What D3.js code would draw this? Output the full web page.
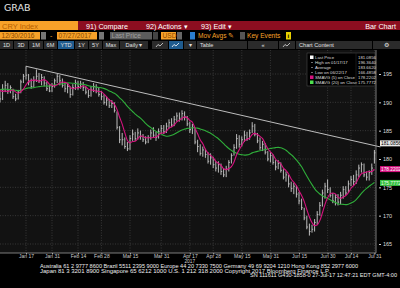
<!DOCTYPE html>
<html lang="en">
<head>
<meta charset="UTF-8">
<title>CRY Index Bar Chart</title>
<script src="https://d3js.org/d3.v7.min.js"></script>
<style>
  body { margin: 0; background: #000; }
  svg { display: block; font-family: "Liberation Sans", Arial, sans-serif; }
</style>
</head>
<body>
<div id="chart"></div>
<script>
// closes from before 12/30/2016, only used to seed the moving averages
const seedCloses = [191.0, 191.6, 192.4, 193.2, 192.8, 191.8, 192.4, 193.0, 192.6, 191.8,
  191.2, 191.6, 192.6, 193.4, 192.0, 192.4, 193.2, 192.6, 192.6];

// daily bars, 12/30/2016 .. 07/27/2017 (trading days)
const closes = [191.6, 190.6, 192.3, 193.0, 192.0, 192.6, 191.0, 190.6, 191.8, 193.6,
  194.6, 194.8, 193.6, 192.8, 193.8, 194.6, 193.8, 194.4, 193.4, 192.4,
  192.0, 192.8, 193.8, 194.6, 193.8, 193.0, 192.4, 192.8, 191.4, 192.6,
  193.4, 192.8, 193.2, 192.6, 191.8, 191.2, 192.2, 192.8, 192.0, 191.4,
  191.0, 190.0, 190.4, 189.4, 189.8, 188.6, 185.6, 183.4, 183.4, 182.2,
  181.8, 183.6, 184.4, 183.6, 184.6, 184.0, 183.4, 183.0, 183.8, 184.6,
  184.2, 183.8, 184.8, 185.4, 184.8, 185.8, 186.4, 186.0, 187.0, 187.6,
  187.2, 188.0, 187.4, 186.2, 185.2, 185.6, 183.0, 182.2, 181.0, 181.6,
  180.8, 179.6, 180.2, 179.0, 178.4, 179.0, 177.8, 177.2, 178.2, 179.4,
  180.6, 182.0, 183.6, 182.6, 183.4, 184.2, 183.6, 184.6, 185.8, 184.4,
  183.2, 182.0, 182.6, 181.2, 180.0, 180.6, 179.4, 178.6, 179.2, 178.0,
  176.8, 177.2, 175.6, 174.8, 175.2, 173.8, 172.6, 171.4, 169.6, 168.0,
  167.2, 167.6, 168.8, 170.2, 171.8, 174.0, 175.2, 174.6, 173.6, 172.6,
  173.2, 172.4, 173.6, 174.6, 174.0, 175.6, 176.4, 176.0, 177.2, 178.4,
  179.0, 177.2, 176.8, 177.6, 178.4, 181.0856];

const highs = [192.8, 192.0, 193.2, 193.8, 193.4, 193.0, 192.4, 191.5, 192.2, 194.0,
  195.0, 196.364, 195.0, 194.2, 194.6, 195.8, 195.2, 195.0, 194.6, 193.6,
  193.2, 193.4, 194.2, 195.0, 194.8, 194.2, 193.6, 193.4, 192.8, 193.2,
  194.0, 193.8, 193.8, 193.6, 192.8, 192.2, 192.8, 193.4, 193.2, 192.6,
  192.0, 191.4, 191.0, 190.6, 190.4, 190.0, 188.4, 185.8, 184.6, 183.8,
  183.0, 184.2, 185.2, 184.8, 185.4, 185.0, 184.4, 184.0, 184.2, 185.2,
  185.6, 184.8, 185.4, 186.0, 186.0, 186.4, 187.0, 187.2, 187.6, 188.2,
  188.2, 188.6, 188.4, 187.6, 186.6, 186.2, 185.4, 183.4, 182.6, 182.2,
  181.8, 181.2, 181.0, 180.4, 179.6, 179.6, 179.2, 178.4, 178.8, 179.8,
  181.0, 182.6, 184.4, 184.2, 184.0, 185.0, 184.8, 185.2, 186.5, 186.2,
  184.6, 183.8, 183.2, 182.8, 181.4, 181.2, 180.8, 179.8, 179.8, 179.4,
  178.2, 177.8, 177.2, 176.0, 175.8, 175.4, 174.2, 173.0, 171.4, 170.0,
  168.6, 168.4, 169.4, 170.8, 172.4, 174.6, 175.8, 176.4, 175.0, 174.0,
  173.8, 173.8, 174.2, 175.2, 175.2, 176.2, 177.0, 177.2, 178.0, 179.0,
  179.4, 179.2, 177.8, 178.0, 179.2, 181.6];

const lows = [190.8, 190.0, 190.4, 191.8, 191.5, 191.6, 190.6, 190.2, 190.5, 191.6,
  193.4, 194.0, 193.0, 192.4, 192.6, 193.6, 193.4, 193.0, 192.8, 192.0,
  191.8, 191.8, 192.6, 193.4, 193.0, 192.6, 191.8, 191.6, 190.8, 191.2,
  192.2, 192.2, 192.4, 192.0, 191.4, 190.8, 191.0, 191.8, 191.6, 191.0,
  190.4, 189.6, 189.4, 189.0, 189.0, 188.2, 185.2, 182.8, 182.4, 181.8,
  181.4, 181.6, 183.2, 183.2, 183.4, 183.4, 183.0, 182.6, 182.8, 183.4,
  183.8, 183.2, 183.6, 184.4, 184.4, 184.6, 185.4, 185.6, 185.8, 186.6,
  186.6, 186.8, 186.8, 185.8, 184.6, 184.4, 182.6, 181.2, 180.6, 180.4,
  180.2, 179.2, 179.0, 178.4, 177.8, 177.6, 177.2, 176.8, 176.8, 177.8,
  179.2, 180.6, 181.8, 182.0, 182.2, 183.0, 183.2, 183.4, 184.6, 184.0,
  182.8, 181.6, 181.4, 180.8, 179.6, 179.4, 179.0, 178.0, 178.2, 177.6,
  176.4, 176.0, 175.0, 174.2, 173.8, 173.2, 172.0, 171.0, 169.2, 167.6,
  166.4858, 167.0, 167.2, 168.4, 170.0, 171.6, 173.0, 174.0, 173.2, 172.2,
  171.8, 171.8, 172.0, 173.0, 173.6, 174.0, 175.2, 175.4, 175.6, 176.8,
  177.6, 176.8, 176.2, 176.2, 177.2, 179.2];

// trend line: two anchor points (day index, price)
const trendIdx = [11, 145];
const trendPrice = [196.364, 181.6];

const yTicks = [165, 170, 175, 180, 185, 190, 195];
const xTickLabels = ["Jan 17", "Jan 31", "Feb 14", "Feb 28", "Mar 15", "Mar 31", "Apr 17",
  "Apr 28", "May 15", "May 31", "Jun 15", "Jun 30", "Jul 14", "Jul 31"];
const xTickIdx = [11, 21, 31, 40, 51, 63, 74, 83, 94, 105, 116, 127, 136, 145];

const legendNames = ["Last Price", "High on 01/17/17", "Average", "Low on 06/22/17",
  "SMAVG (5) on Close", "SMAVG (20) on Close"];
const legendValues = ["181.0856", "196.3640", "183.6620", "166.4858", "178.2202", "175.7772"];

const footer = [
  "Australia 61 2 9777 8600 Brazil 5511 2395 9000 Europe 44 20 7330 7500 Germany 49 69 9204 1210 Hong Kong 852 2977 6000",
  "Japan 81 3 3201 8900          Singapore 65 6212 1000          U.S. 1 212 318 2000          Copyright 2017 Bloomberg Finance L.P.",
  "SN 111611 G430-1858-0 27-Jul-17 12:47:21 EDT  GMT-4:00"
];

const W = 400, H = 288;
const ORANGE = "#f7a129", RED = "#8c0e20", MAG = "#d6127f", GRN = "#2fae3a";

const svg = d3.select("#chart").append("svg")
  .attr("width", W).attr("height", H);

svg.append("rect").attr("width", W).attr("height", H).attr("fill", "#000");

// ---- header ----
svg.append("text").attr("x", 4).attr("y", 11).text("GRAB")
  .attr("fill", "#e6e6e6").attr("font-size", 9.5).attr("font-family", "DejaVu Sans");

// row 1
svg.append("rect").attr("x", 0).attr("y", 21).attr("width", 78).attr("height", 9).attr("fill", ORANGE);
svg.append("rect").attr("x", 78).attr("y", 21).attr("width", 322).attr("height", 9).attr("fill", RED);
svg.append("text").attr("x", 2).attr("y", 28.5).text("CRY Index").attr("fill", "#b65f00").attr("font-size", 7.5);
[["91) Compare", 86], ["92) Actions \u25BE", 146], ["93) Edit \u25BE", 201]].forEach(([t, x]) => {
  svg.append("text").attr("x", x).attr("y", 28.5).text(t).attr("fill", "#fff").attr("font-size", 7.2);
});
svg.append("text").attr("x", 396).attr("y", 28.5).attr("text-anchor", "end").text("Bar Chart")
  .attr("fill", "#fff").attr("font-size", 7.2);

// row 2
const row2 = [
  { x: 0, w: 40, fill: ORANGE, t: "12/30/2016", c: "#8a4a00" },
  { x: 41, w: 5, fill: "#777" },
  { x: 57, w: 40, fill: ORANGE, t: "07/27/2017", c: "#8a4a00" },
  { x: 99, w: 5, fill: "#777" },
  { x: 110, w: 42, fill: "#5c5c5c", t: "Last Price", c: "#a0a0a0" },
  { x: 153, w: 5, fill: "#444" },
  { x: 161, w: 15, fill: ORANGE, t: "USD", c: "#8a4a00" },
  { x: 177, w: 5, fill: "#666" },
  { x: 190, w: 5, fill: "#2b7fd0" },
  { x: 240, w: 5, fill: "#555" },
  { x: 286, w: 5, fill: "#e8d000" }
];
row2.forEach(d => {
  svg.append("rect").attr("x", d.x).attr("y", 32).attr("width", d.w).attr("height", 7.5).attr("fill", d.fill);
  if (d.t) svg.append("text").attr("x", d.x + 1.5).attr("y", 38.3).text(d.t)
    .attr("fill", d.c).attr("font-size", 6.6);
});
svg.append("text").attr("x", 50).attr("y", 38.3).text("-").attr("fill", ORANGE).attr("font-size", 7);
svg.append("text").attr("x", 198).attr("y", 38.3).text("Mov Avgs \u270E").attr("fill", ORANGE).attr("font-size", 6.6);
svg.append("text").attr("x", 247).attr("y", 38.3).text("Key Events").attr("fill", ORANGE).attr("font-size", 6.6);
svg.append("text").attr("x", 287.5).attr("y", 38.3).text("i").attr("fill", "#000").attr("font-size", 6).attr("font-weight", "bold");

// row 3
const row3 = [
  ["1D", 0, 13], ["3D", 14, 14], ["1M", 29, 14], ["6M", 44, 13], ["YTD", 58, 16],
  ["1Y", 75, 13], ["5Y", 89, 13], ["Max", 103, 16], ["Daily \u25BE", 120, 28],
  ["", 152, 16], ["", 169, 14], ["\u25BE", 184, 12], ["Table", 197, 50],
  ["\u00AB", 248, 30], ["", 279, 16], ["Chart Content", 296, 76], ["\u2699", 373, 27]
];
row3.forEach(([t, x, w]) => {
  const active = t === "YTD" || x === 169;
  svg.append("rect").attr("x", x).attr("y", 41).attr("width", w).attr("height", 8)
    .attr("fill", active ? "#1f5b8e" : "#2b2b2b");
  if (t) svg.append("text").attr("x", t === "Table" || t === "Chart Content" ? x + 3 : x + w / 2)
    .attr("text-anchor", t === "Table" || t === "Chart Content" ? "start" : "middle")
    .attr("y", 47.3).text(t).attr("fill", "#e0e0e0").attr("font-size", 5.6);
});
// small chart icons
[[156, "#ddd"], [172, "#fff"], [283, "#ddd"]].forEach(([x, c]) => {
  svg.append("path").attr("d", `M${x},47 L${x + 2},44.5 L${x + 4},46 L${x + 7},43`)
    .attr("fill", "none").attr("stroke", c).attr("stroke-width", 0.8);
});

// ---- chart panel ----
const plotL = 0, plotR = 376, plotT = 50, plotB = 253;
svg.append("rect").attr("x", plotL).attr("y", plotT).attr("width", plotR - plotL).attr("height", plotB - plotT)
  .attr("fill", "#121212");

const x = d3.scaleLinear().domain([0, closes.length - 1]).range([-2.6, 374.4]);
const y = d3.scaleLinear().domain([165, 195]).range([244, 74]);

svg.append("clipPath").attr("id", "clip").append("rect")
  .attr("x", plotL).attr("y", plotT).attr("width", plotR - plotL).attr("height", plotB - plotT);

const grid = svg.append("g");
grid.selectAll(".hg").data(yTicks).join("line")
  .attr("x1", plotL).attr("x2", plotR).attr("y1", d => y(d)).attr("y2", d => y(d))
  .attr("stroke", "#505050").attr("stroke-width", 0.6).attr("stroke-dasharray", "1,1.5");
grid.selectAll(".vg").data(xTickIdx).join("line")
  .attr("x1", d => x(d)).attr("x2", d => x(d)).attr("y1", plotT).attr("y2", plotB)
  .attr("stroke", "#505050").attr("stroke-width", 0.6).attr("stroke-dasharray", "1,1.5");

const plot = svg.append("g").attr("clip-path", "url(#clip)");

// bars
const idx = d3.range(closes.length);
plot.selectAll(".hl").data(idx).join("line")
  .attr("x1", i => x(i)).attr("x2", i => x(i))
  .attr("y1", i => y(highs[i])).attr("y2", i => y(lows[i]))
  .attr("stroke", "#cfcfcf").attr("stroke-width", 0.9);
plot.selectAll(".cl").data(idx).join("line")
  .attr("x1", i => x(i)).attr("x2", i => x(i) + 1.2)
  .attr("y1", i => y(closes[i])).attr("y2", i => y(closes[i]))
  .attr("stroke", "#cfcfcf").attr("stroke-width", 0.8);

// moving averages
const all = seedCloses.concat(closes);
function sma(n) {
  return closes.map((c, i) => {
    const end = i + seedCloses.length + 1;
    return d3.mean(all.slice(Math.max(0, end - n), end));
  });
}
const line = d3.line().x((d, i) => x(i)).y(d => y(d)).curve(d3.curveMonotoneX);
plot.append("path").attr("d", line(sma(20))).attr("fill", "none").attr("stroke", GRN).attr("stroke-width", 1.1);
plot.append("path").attr("d", line(sma(5))).attr("fill", "none").attr("stroke", MAG).attr("stroke-width", 1.1);

// trend line
svg.append("line")
  .attr("x1", x(trendIdx[0])).attr("y1", y(trendPrice[0]))
  .attr("x2", x(trendIdx[1]) + 6).attr("y2", y(trendPrice[1]) - 3)
  .attr("stroke", "#bdbdbd").attr("stroke-width", 1);

// ---- axes ----
svg.append("line").attr("x1", plotR).attr("x2", plotR).attr("y1", plotT).attr("y2", plotB)
  .attr("stroke", "#9a9a9a").attr("stroke-width", 0.8);
svg.append("line").attr("x1", plotL).attr("x2", plotR).attr("y1", plotB).attr("y2", plotB)
  .attr("stroke", "#9a9a9a").attr("stroke-width", 0.8);

const yAxis = svg.append("g").attr("transform", `translate(${plotR + 3},0)`)
  .call(d3.axisRight(y).tickValues(yTicks).tickSize(2).tickPadding(2));
yAxis.select(".domain").remove();
yAxis.selectAll("line").attr("stroke", "#ccc");
yAxis.selectAll("text").attr("fill", "#ddd").attr("font-size", 5.5).attr("font-family", "Liberation Sans");

const xAxis = svg.append("g").attr("transform", `translate(0,${plotB})`)
  .call(d3.axisBottom(x).tickValues(xTickIdx).tickFormat((d, i) => xTickLabels[i]).tickSize(1.5).tickPadding(0.3));
xAxis.select(".domain").remove();
xAxis.selectAll("line").attr("stroke", "#aaa");
xAxis.selectAll("text").attr("fill", "#ccc").attr("font-size", 5).attr("font-family", "Liberation Sans");
svg.append("text").attr("x", x(74)).attr("y", 263).attr("text-anchor", "middle").text("2017")
  .attr("fill", "#ccc").attr("font-size", 4.8);

// value tags on the right axis
const tags = [
  { v: legendValues[0], y: y(closes[closes.length - 1]) - 9.5, fill: "#e8e8e8", c: "#000" },
  { v: legendValues[4], y: y(+legendValues[4]), fill: MAG, c: "#fff" },
  { v: legendValues[5], y: y(+legendValues[5]), fill: "#38c040", c: "#eaffea" }
];
tags.forEach(t => {
  svg.append("rect").attr("x", 380).attr("y", t.y - 3).attr("width", 20).attr("height", 6).attr("fill", t.fill);
  svg.append("text").attr("x", 381).attr("y", t.y + 1.8).text(t.v).attr("fill", t.c).attr("font-size", 4.8);
});

// ---- legend ----
const lg = svg.append("g");
lg.append("rect").attr("x", 307).attr("y", 53).attr("width", 68).attr("height", 33)
  .attr("fill", "#000").attr("stroke", "#555").attr("stroke-width", 0.5);
const swatch = ["#fff", null, null, null, MAG, "#4ee04e"];
legendNames.forEach((n, i) => {
  const ry = 57.5 + i * 5;
  if (swatch[i]) lg.append("rect").attr("x", 310).attr("y", ry - 2).attr("width", 3.5).attr("height", 3.5).attr("fill", swatch[i]);
  else lg.append("line").attr("x1", 311).attr("x2", 313).attr("y1", ry).attr("y2", ry).attr("stroke", "#bbb").attr("stroke-width", 0.6);
  lg.append("text").attr("x", 315).attr("y", ry + 1.5).text(n).attr("fill", "#ddd").attr("font-size", 4.3);
  lg.append("text").attr("x", 358).attr("y", ry + 1.5).text(legendValues[i]).attr("fill", "#ddd").attr("font-size", 4.3);
});
lg.append("line").attr("x1", 356).attr("x2", 356).attr("y1", 53).attr("y2", 86).attr("stroke", "#333").attr("stroke-width", 0.5);

// ---- footer ----
svg.append("text").attr("x", 40).attr("y", 268.3).text(footer[0]).attr("fill", "#eee")
  .attr("font-size", 4.5).attr("textLength", 318).attr("lengthAdjust", "spacingAndGlyphs");
svg.append("text").attr("x", 40).attr("y", 272.8).text(footer[1]).attr("fill", "#eee")
  .attr("font-size", 4.5).attr("textLength", 290).attr("lengthAdjust", "spacingAndGlyphs");
svg.append("text").attr("x", 250).attr("y", 277.3).text(footer[2]).attr("fill", "#eee")
  .attr("font-size", 4.5).attr("textLength", 147).attr("lengthAdjust", "spacingAndGlyphs");
</script>
</body>
</html>
